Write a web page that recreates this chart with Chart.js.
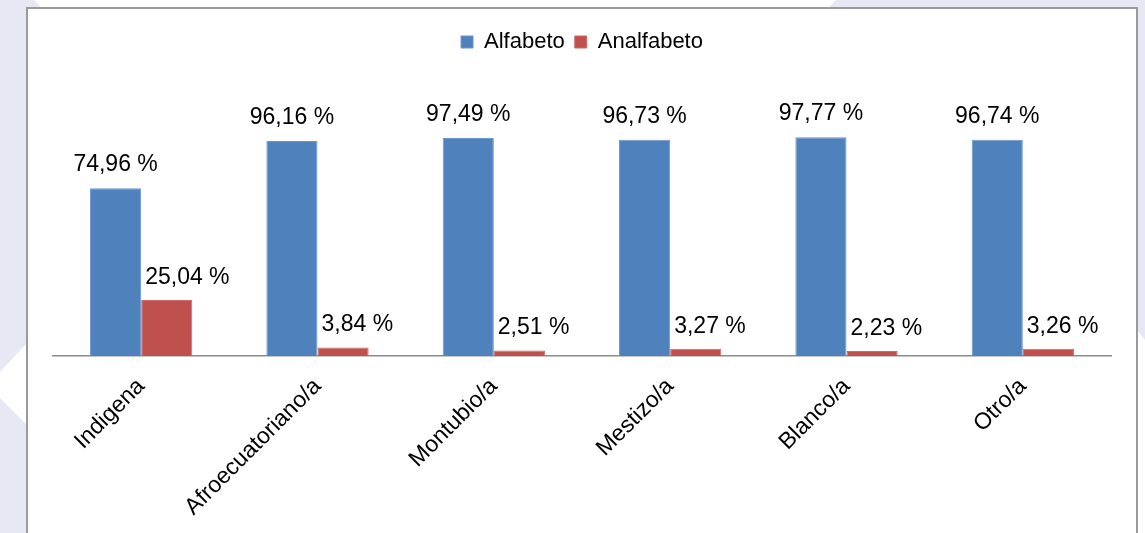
<!DOCTYPE html>
<html>
<head>
<meta charset="utf-8">
<script src="https://cdn.jsdelivr.net/npm/chart.js@4/dist/chart.umd.min.js"></script>
<style>
  html, body { margin: 0; padding: 0; background: #fff; }
  #wrap { position: relative; width: 1145px; height: 533px; overflow: hidden; }
  #bg { position: absolute; left: 0; top: 0; }
  #box { position: absolute; left: 26px; top: 7px; width: 1108px; height: 540px;
         border: 2px solid #9a9a9a; background: #fff; }
  #chart { position: absolute; left: 0; top: 0; }
</style>
</head>
<body>
<div id="wrap">
  <!-- fondo decorativo -->
  <svg id="bg" width="1145" height="533">
    <polygon points="0,0 34,0 42,8 27,8 27,343 0,372" fill="#e8e8f4"/>
    <polygon points="0,398 27,425 27,533 0,533" fill="#e8e8f4"/>
    <polygon points="836,0 1145,0 1145,340 1137,330 1137,8 828,8" fill="#e8e8f4"/>
  </svg>
  <div id="box"></div>
  <canvas id="chart" width="1145" height="533"></canvas>
</div>
<script>
// datos
const categories = ["Indigena", "Afroecuatoriano/a", "Montubio/a", "Mestizo/a", "Blanco/a", "Otro/a"];
const alfabeto = [74.96, 96.16, 97.49, 96.73, 97.77, 96.74];
const analfabeto = [25.04, 3.84, 2.51, 3.27, 2.23, 3.26];
const seriesNames = ["Alfabeto", "Analfabeto"];

const FONT = "'Liberation Sans', Arial, sans-serif";

// etiquetas de valor encima de las barras
const valueLabels = {
    id: 'valueLabels',
    afterDatasetsDraw(chart) {
        const ctx = chart.ctx;
        ctx.save();
        ctx.font = `23px ${FONT}`;
        ctx.fillStyle = '#000';
        ctx.textBaseline = 'alphabetic';
        chart.data.datasets.forEach((ds, di) => {
            chart.getDatasetMeta(di).data.forEach((bar, i) => {
                const txt = ds.data[i].toFixed(2).replace('.', ',') + ' %';
                if (di === 0) {
                    ctx.textAlign = 'center';
                    ctx.fillText(txt, bar.x, bar.y - 17);
                } else {
                    ctx.textAlign = 'left';
                    ctx.fillText(txt, bar.x - bar.width / 2 + 4, bar.y - 16);
                }
            });
        });
        ctx.restore();
    }
};

new Chart(document.getElementById('chart'), {
    type: 'bar',
    data: {
        labels: categories,
        datasets: [
            { label: seriesNames[0], data: alfabeto, backgroundColor: '#4f81bd', borderColor: '#6a95cc', borderWidth: 1 },
            { label: seriesNames[1], data: analfabeto, backgroundColor: '#c0504d', borderColor: '#cc6b68', borderWidth: 1 }
        ]
    },
    options: {
        responsive: false,
        animation: false,
        categoryPercentage: 0.58,
        barPercentage: 1.0,
        layout: { padding: { left: 53, right: 34, top: 21, bottom: 0 } },
        plugins: {
            legend: {
                position: 'top',
                labels: {
                    boxWidth: 12, boxHeight: 12, padding: 10,
                    color: '#000',
                    font: { family: FONT, size: 22 }
                }
            },
            tooltip: { enabled: false }
        },
        scales: {
            x: {
                grid: { display: false, drawTicks: false },
                border: { display: true, color: '#8c8c8c', width: 1.5 },
                ticks: {
                    color: '#000',
                    font: { family: FONT, size: 23 },
                    minRotation: 45, maxRotation: 45,
                    padding: 17
                },
                afterFit(scale) { scale.height = 533 - 356; }
            },
            y: {
                display: false,
                min: 0,
                max: 131
            }
        }
    },
    plugins: [valueLabels]
});
</script>
</body>
</html>
